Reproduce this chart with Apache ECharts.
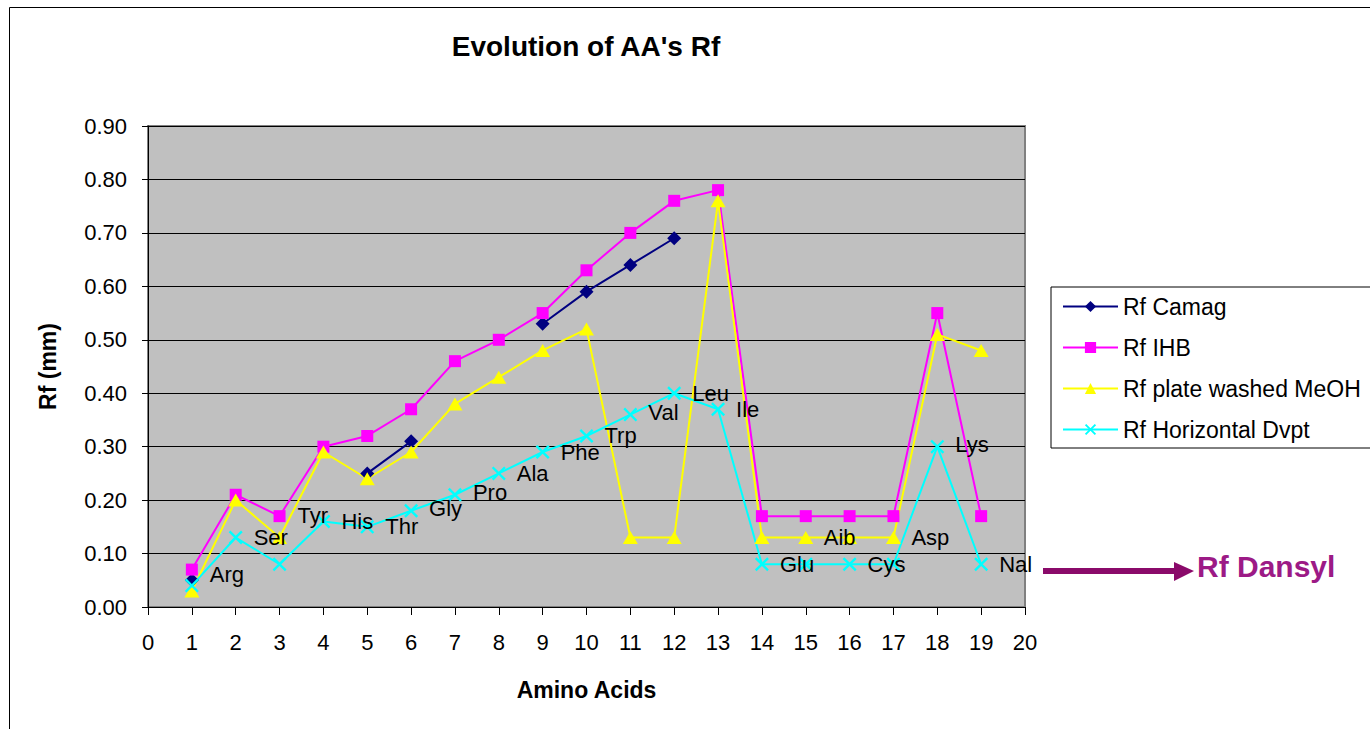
<!DOCTYPE html>
<html>
<head>
<meta charset="utf-8">
<script src="https://cdn.jsdelivr.net/npm/echarts@6/dist/echarts.min.js"></script>
<style>
html,body{margin:0;padding:0;background:#fff;}
#chart{width:1370px;height:729px;}
</style>
</head>
<body>
<div id="chart"></div>
<script>
// ---- data ----
const positions = [1,2,3,4,5,6,7,8,9,10,11,12,13,14,15,16,17,18,19];
const aminoAcids = ['Arg','Ser','Tyr','His','Thr','Gly','Pro','Ala','Phe','Trp','Val','Leu','Ile','Glu','Aib','Cys','Asp','Lys','Nal'];
const rfCamag = [0.05,null,null,null,0.25,0.31,null,null,0.53,0.59,0.64,0.69,null,null,null,null,null,null,null];
const rfIHB = [0.07,0.21,0.17,0.30,0.32,0.37,0.46,0.50,0.55,0.63,0.70,0.76,0.78,0.17,0.17,0.17,0.17,0.55,0.17];
const rfMeOH = [0.03,0.20,0.13,0.29,0.24,0.29,0.38,0.43,0.48,0.52,0.13,0.13,0.76,0.13,0.13,0.13,0.13,0.51,0.48];
const rfHorizontal = [0.04,0.13,0.08,0.16,0.15,0.18,0.21,0.25,0.29,0.32,0.36,0.40,0.37,0.08,0.08,0.08,0.08,0.30,0.08];
const seriesNames = ['Rf Camag','Rf IHB','Rf plate washed MeOH','Rf Horizontal Dvpt'];
const xTicks = {min:0, max:20, interval:1};
const yTicks = {min:0, max:0.9, interval:0.1};

// ---- styling (label vertical offsets, px) ----
const labelDy = [-11,0,-49,0,0,-2,-2,0,0,0,-2,0,0,0,-27,0,-27,-2,0];

const pair = arr => arr.map((v,i) => [positions[i], v == null ? '-' : v]);
const FONT = '"Liberation Sans", Arial, sans-serif';
const xSymbol = 'path://M0,1.2L1.2,0L5,3.8L8.8,0L10,1.2L6.2,5L10,8.8L8.8,10L5,6.2L1.2,10L0,8.8L3.8,5Z';

const chart = echarts.init(document.getElementById('chart'), null, {renderer:'svg'});
chart.setOption({
  animation:false,
  backgroundColor:'#ffffff',
  textStyle:{fontFamily:FONT},
  grid:{left:148, right:345, top:126, bottom:122, show:true, backgroundColor:'#C0C0C0', borderColor:'#808080', borderWidth:2},
  legend:{
    orient:'vertical', left:1051, top:287,
    backgroundColor:'#ffffff', borderColor:'#000', borderWidth:1,
    padding:[8,30,7,11], itemWidth:55, itemHeight:14, itemGap:18,
    textStyle:{fontSize:23, lineHeight:22, color:'#000', fontFamily:FONT},
    data:seriesNames
  },
  xAxis:{
    type:'value', min:xTicks.min, max:xTicks.max, interval:xTicks.interval,
    name:'Amino Acids', nameLocation:'middle', nameGap:71,
    nameTextStyle:{fontSize:23, fontWeight:'bold', color:'#000', fontFamily:FONT},
    axisLine:{show:true, lineStyle:{color:'#000', width:1}},
    axisTick:{show:true, length:8, inside:false, lineStyle:{color:'#000'}},
    axisLabel:{fontSize:22, color:'#000', margin:24, fontFamily:FONT},
    splitLine:{show:false}
  },
  yAxis:{
    type:'value', min:yTicks.min, max:yTicks.max, interval:yTicks.interval,
    name:'Rf (mm)', nameLocation:'middle', nameGap:89, nameRotate:90,
    nameTextStyle:{fontSize:23, fontWeight:'bold', color:'#000', fontFamily:FONT},
    axisLine:{show:true, lineStyle:{color:'#000', width:1}},
    axisTick:{show:true, length:6, lineStyle:{color:'#000'}},
    axisLabel:{fontSize:22, color:'#000', margin:21, fontFamily:FONT, formatter:v => v.toFixed(2)},
    splitLine:{show:true, lineStyle:{color:'#000', width:1}}
  },
  series:[
    {name:seriesNames[0], type:'line', data:pair(rfCamag), connectNulls:false,
     symbol:'diamond', symbolSize:14, showAllSymbol:true,
     lineStyle:{color:'#000080', width:2}, itemStyle:{color:'#000080'}},
    {name:seriesNames[1], type:'line', data:pair(rfIHB),
     symbol:'rect', symbolSize:12, showAllSymbol:true,
     lineStyle:{color:'#FF00FF', width:2}, itemStyle:{color:'#FF00FF'}},
    {name:seriesNames[2], type:'line', data:pair(rfMeOH),
     symbol:'triangle', symbolSize:[15,13], showAllSymbol:true,
     lineStyle:{color:'#FFFF00', width:2}, itemStyle:{color:'#FFFF00'}},
    {name:seriesNames[3], type:'line',
     data:rfHorizontal.map((v,i) => ({value:[positions[i], v], name:aminoAcids[i], label:{offset:[0, labelDy[i]]}})),
     symbol:xSymbol, symbolSize:14, showAllSymbol:true,
     lineStyle:{color:'#00FFFF', width:2}, itemStyle:{color:'#00FFFF'},
     label:{show:true, position:'right', distance:11, fontSize:22, color:'#000', fontFamily:FONT,
            formatter:p => p.name}}
  ],
  graphic:[
    {type:'rect', shape:{x:9.5, y:7.5, width:3000, height:3000}, style:{fill:'none', stroke:'#000', lineWidth:1}, silent:true},
    {type:'text', x:586, y:46, style:{text:"Evolution of AA's Rf", fontSize:28, fontWeight:'bold', fill:'#000', fontFamily:FONT, textAlign:'center', textVerticalAlign:'middle'}},
    {type:'line', shape:{x1:1043, y1:571, x2:1178, y2:571}, style:{stroke:'#8A0A6A', lineWidth:6}},
    {type:'polygon', shape:{points:[[1174,562],[1194,571],[1174,581]]}, style:{fill:'#8A0A6A'}},
    {type:'text', x:1197, y:566, style:{text:'Rf Dansyl', fontSize:30, fontWeight:'bold', fill:'#9C1A86', fontFamily:FONT, textAlign:'left', textVerticalAlign:'middle'}}
  ]
});
</script>
</body>
</html>
